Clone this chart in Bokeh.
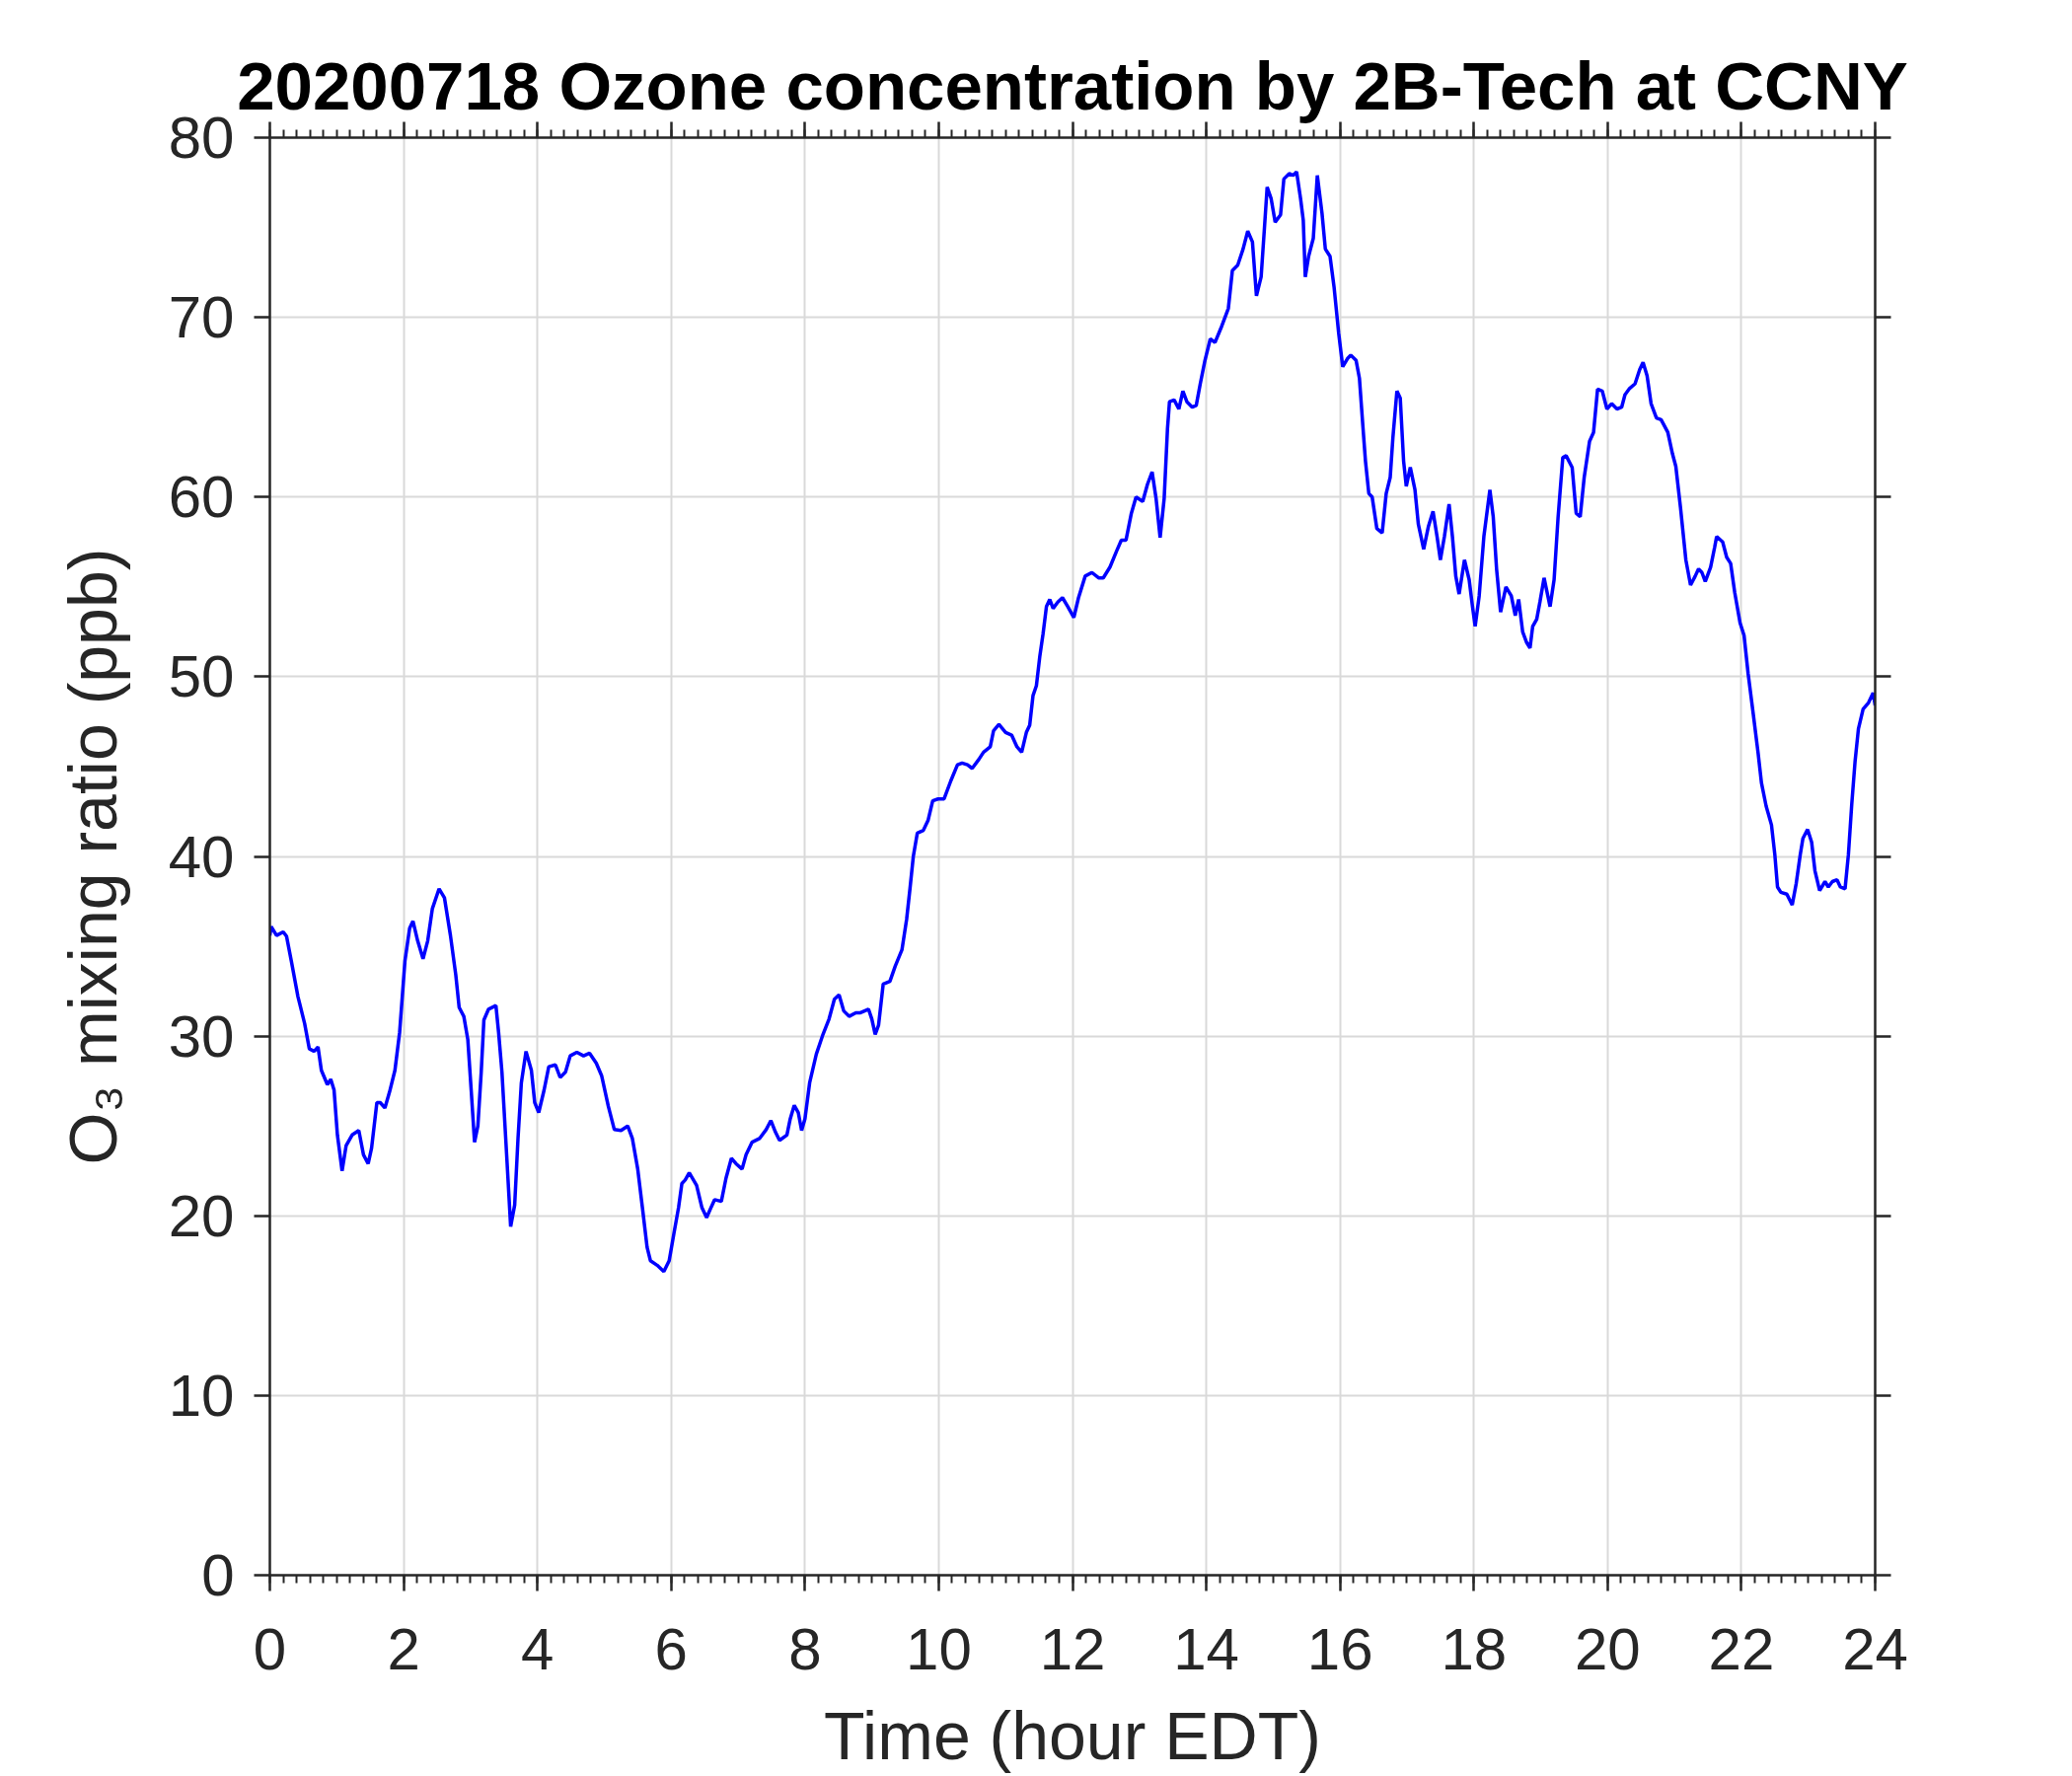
from bokeh.plotting import figure
from bokeh.models import Range1d, LinearAxis, SingleIntervalTicker
from bokeh.embed import file_html
from bokeh.resources import INLINE

# ---- data ----
time_h = [
    0.00, 0.02, 0.10, 0.20, 0.25, 0.32, 0.42, 0.52, 0.59, 0.66, 0.72, 0.77, 0.86, 0.91, 0.96,
    1.01, 1.08, 1.14, 1.23, 1.33, 1.40, 1.47, 1.52, 1.60, 1.65, 1.72, 1.79, 1.87, 1.94,
    2.02, 2.09, 2.14, 2.21, 2.29, 2.36, 2.43, 2.53, 2.61, 2.70, 2.78, 2.83, 2.90, 2.96,
    3.01, 3.06, 3.11, 3.16, 3.20, 3.27, 3.38, 3.42, 3.47, 3.54, 3.60, 3.66, 3.71, 3.76,
    3.83, 3.91, 3.96, 4.02, 4.10, 4.17, 4.27, 4.34, 4.42, 4.49, 4.59, 4.69, 4.78, 4.88,
    4.96, 5.06, 5.15, 5.25, 5.35, 5.42, 5.50, 5.57, 5.64, 5.69, 5.79, 5.89, 5.97,
    6.04, 6.11, 6.16, 6.21, 6.27, 6.38, 6.46, 6.53, 6.60, 6.65, 6.75, 6.82, 6.90, 6.97,
    7.06, 7.12, 7.21, 7.32, 7.42, 7.49, 7.56, 7.62, 7.73, 7.78, 7.84, 7.90, 7.95,
    8.00, 8.07, 8.17, 8.27, 8.36, 8.44, 8.51, 8.58, 8.66, 8.76, 8.83, 8.95, 9.00, 9.05,
    9.10, 9.17, 9.27, 9.35, 9.45, 9.52, 9.57, 9.62, 9.68, 9.77, 9.84, 9.91, 9.99,
    10.08, 10.18, 10.28, 10.35, 10.43, 10.50, 10.60, 10.67, 10.77, 10.82, 10.90, 11.00,
    11.09, 11.17, 11.24, 11.31, 11.36, 11.41, 11.46, 11.51, 11.56, 11.61, 11.66, 11.71,
    11.78, 11.85, 11.93, 12.02, 12.09, 12.19, 12.29, 12.39, 12.46, 12.56, 12.66, 12.73,
    12.80, 12.88, 12.95, 13.05, 13.12, 13.19, 13.25, 13.31, 13.37, 13.42, 13.45, 13.52,
    13.59, 13.65, 13.71, 13.79, 13.85, 13.91, 13.98, 14.06, 14.13, 14.23, 14.33, 14.39,
    14.47, 14.55, 14.62, 14.69, 14.75, 14.82, 14.87, 14.91, 14.97, 15.03, 15.11, 15.16,
    15.24, 15.30, 15.35, 15.41, 15.45, 15.48, 15.53, 15.60, 15.66, 15.73, 15.78, 15.85,
    15.91, 15.98, 16.04, 16.11, 16.16, 16.24, 16.29, 16.34, 16.38, 16.43, 16.48, 16.55,
    16.63, 16.69, 16.75, 16.79, 16.85, 16.90, 16.95, 16.99, 17.05, 17.12, 17.17, 17.25,
    17.32, 17.39, 17.45, 17.50, 17.56, 17.63, 17.68, 17.73, 17.78, 17.86, 17.93, 17.98,
    18.02, 18.08, 18.15, 18.24, 18.29, 18.34, 18.40, 18.48, 18.56, 18.62, 18.67, 18.73,
    18.79, 18.84, 18.88, 18.94, 18.99, 19.05, 19.14, 19.20, 19.26, 19.33, 19.38, 19.47,
    19.53, 19.59, 19.65, 19.73, 19.79, 19.85, 19.92, 19.99, 20.06, 20.14, 20.21, 20.26,
    20.33, 20.41, 20.48, 20.53, 20.59, 20.65, 20.73, 20.80, 20.90, 20.97, 21.02, 21.09,
    21.17, 21.24, 21.31, 21.36, 21.41, 21.46, 21.54, 21.60, 21.63, 21.72, 21.78, 21.84,
    21.90, 21.98, 22.04, 22.10, 22.18, 22.25, 22.30, 22.37, 22.45, 22.50, 22.54, 22.59,
    22.68, 22.76, 22.82, 22.88, 22.92, 22.99, 23.05, 23.10, 23.17, 23.25, 23.30, 23.36,
    23.43, 23.48, 23.55, 23.60, 23.65, 23.70, 23.75, 23.82, 23.90, 23.97, 24.00,
]
o3_ppb = [
    35.6, 36.1, 35.6, 35.8, 35.55, 34.2, 32.2, 30.7, 29.3, 29.15, 29.4, 28.1, 27.3, 27.6, 27.0,
    24.5, 22.5, 23.9, 24.5, 24.75, 23.4, 22.9, 23.75, 26.3, 26.3, 26.0, 26.9, 28.1, 30.2,
    34.2, 36.0, 36.4, 35.3, 34.3, 35.3, 37.1, 38.2, 37.7, 35.6, 33.4, 31.6, 31.1, 29.8,
    27.0, 24.1, 25.0, 28.0, 30.9, 31.5, 31.7, 30.2, 28.0, 23.4, 19.4, 20.6, 24.3, 27.4,
    29.15, 28.1, 26.3, 25.75, 27.0, 28.3, 28.4, 27.7, 28.0, 28.9, 29.1, 28.9, 29.05, 28.5,
    27.8, 26.1, 24.8, 24.75, 25.0, 24.3, 22.6, 20.45, 18.25, 17.5, 17.25, 16.9, 17.5,
    19.0, 20.45, 21.8, 22.0, 22.4, 21.7, 20.45, 19.9, 20.5, 20.9, 20.8, 22.1, 23.2, 22.9,
    22.6, 23.4, 24.1, 24.3, 24.8, 25.3, 24.65, 24.2, 24.5, 25.4, 26.15, 25.75, 24.75,
    25.4, 27.4, 29.0, 30.1, 30.95, 32.05, 32.3, 31.4, 31.1, 31.3, 31.3, 31.5, 30.95, 30.1,
    30.6, 32.9, 33.05, 33.9, 34.8, 36.5, 38.2, 40.0, 41.3, 41.45, 42.0, 43.1, 43.2,
    43.2, 44.2, 45.1, 45.2, 45.1, 44.9, 45.4, 45.8, 46.1, 47.0, 47.35, 46.9,
    46.75, 46.1, 45.8, 46.9, 47.3, 48.96, 49.5, 51.1, 52.4, 53.9, 54.3, 53.8,
    54.15, 54.4, 53.9, 53.3, 54.4, 55.6, 55.8, 55.5, 55.5, 56.1, 57.0, 57.6,
    57.6, 59.1, 60.0, 59.75, 60.7, 61.4, 59.9, 57.75, 59.9, 63.8, 65.3, 65.4,
    64.9, 65.9, 65.3, 65.0, 65.1, 66.3, 67.6, 68.8, 68.6, 69.5, 70.5, 72.6,
    72.9, 73.8, 74.8, 74.2, 71.2, 72.25, 75.0, 77.25, 76.6, 75.3, 75.7, 77.7,
    78.0, 77.9, 78.1, 76.6, 75.4, 72.25, 73.4, 74.4, 77.9, 75.8, 73.8, 73.4,
    71.7, 69.1, 67.25, 67.7, 67.9, 67.6, 66.6, 64.0, 62.0, 60.2, 60.0, 58.25,
    58.0, 60.2, 61.1, 63.3, 65.9, 65.5, 62.0, 60.6, 61.65, 60.4, 58.5, 57.1,
    58.35, 59.2, 57.8, 56.5, 57.8, 59.6, 57.8, 55.6, 54.6, 56.5, 55.4, 53.9,
    52.8, 54.5, 57.8, 60.4, 58.9, 56.0, 53.6, 55.0, 54.5, 53.4, 54.3, 52.5,
    51.9, 51.6, 52.8, 53.2, 54.2, 55.5, 53.9, 55.4, 58.9, 62.2, 62.3, 61.65,
    59.1, 58.9, 61.1, 63.1, 63.6, 66.0, 65.9, 64.9, 65.2, 64.9, 65.0, 65.7,
    66.05, 66.3, 67.1, 67.5, 66.75, 65.2, 64.4, 64.3, 63.6, 62.4, 61.7, 59.4,
    56.5, 55.1, 55.6, 56.0, 55.8, 55.3, 56.1, 57.2, 57.8, 57.5, 56.65, 56.3,
    54.7, 53.0, 52.3, 50.2, 47.85, 45.75, 44.1, 42.8, 41.75, 40.1, 38.3, 38.0,
    37.9, 37.3, 38.5, 40.1, 41.0, 41.5, 40.8, 39.2, 38.1, 38.6, 38.3, 38.6,
    38.7, 38.3, 38.2, 40.1, 42.9, 45.3, 47.1, 48.2, 48.55, 49.1, 48.4,
]
x_range_hours = (0, 24)
y_range_ppb = (0, 80)
x_tick_step = 2
y_tick_step = 10
title_text = "20200718 Ozone concentration by 2B-Tech at CCNY"
x_label = "Time (hour EDT)"
y_label = "O\u2083 mixing ratio (ppb)"

AXC = "#262626"
FONT = "Liberation Sans"

p = figure(
    frame_width=1627, frame_height=1457,
    x_range=Range1d(*x_range_hours), y_range=Range1d(*y_range_ppb),
    output_backend="svg", toolbar_location=None,
    min_border_left=273, min_border_right=184,
    min_border_top=139, min_border_bottom=196,
    background_fill_color="white", border_fill_color="white",
    outline_line_color=None,
)

xt = SingleIntervalTicker(interval=x_tick_step, num_minor_ticks=10)
yt = SingleIntervalTicker(interval=y_tick_step, num_minor_ticks=0)

def style(ax, minor):
    ax.axis_line_color = AXC
    ax.axis_line_width = 2.5
    ax.major_tick_line_color = AXC
    ax.major_tick_line_width = 2.5
    ax.major_tick_in = 0
    ax.major_tick_out = 16
    if minor:
        ax.minor_tick_line_color = AXC
        ax.minor_tick_line_width = 2
        ax.minor_tick_in = 0
        ax.minor_tick_out = 8
    else:
        ax.minor_tick_line_color = None
    ax.major_label_text_font = FONT
    ax.major_label_text_color = AXC
    ax.major_label_text_font_size = "60px"
    ax.axis_label_text_font = FONT
    ax.axis_label_text_font_style = "normal"
    ax.axis_label_text_color = AXC
    ax.axis_label_text_font_size = "68px"

xa = p.xaxis[0]
xa.ticker = xt
style(xa, True)
xa.major_label_standoff = 38
xa.axis_label = x_label
xa.axis_label_standoff = 26

ya = p.yaxis[0]
ya.ticker = yt
style(ya, False)
ya.major_label_standoff = 20
ya.axis_label = y_label
ya.axis_label_standoff = 36

# box axes (top / right) carry ticks only, no labels
top = LinearAxis(ticker=xt)
style(top, True)
top.major_label_text_font_size = "1px"
top.major_label_text_color = None
top.major_label_standoff = 0
p.add_layout(top, "above")

right = LinearAxis(ticker=yt)
style(right, False)
right.major_label_text_font_size = "1px"
right.major_label_text_color = None
right.major_label_standoff = 0
p.add_layout(right, "right")

p.xgrid.ticker = xt
p.ygrid.ticker = yt
for g in (p.xgrid[0], p.ygrid[0]):
    g.grid_line_color = "#d9d9d9"
    g.grid_line_width = 2

p.title.text = title_text
p.title.text_font = FONT
p.title.text_font_size = "69px"
p.title.text_font_style = "bold"
p.title.text_color = "black"
p.title.align = "center"
p.title.standoff = -5

p.line(time_h, o3_ppb, line_color="#0000ff", line_width=3.5)

open("out.html", "w").write(file_html(p, INLINE))
